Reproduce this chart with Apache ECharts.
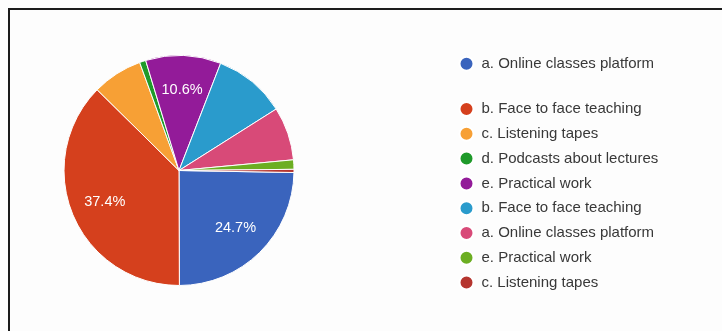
<!DOCTYPE html>
<html>
<head>
<meta charset="utf-8">
<style>
  html, body { margin: 0; padding: 0; background: #fdfdfd; }
  #chart { width: 722px; height: 331px; }
</style>
<script src="https://cdn.jsdelivr.net/npm/echarts@6/dist/echarts.min.js"></script>
</head>
<body>
<div id="chart"></div>
<script>
// Survey answers, in legend order (labels repeat as they appear in the legend)
const categories = [
  'a. Online classes platform',
  'b. Face to face teaching',
  'c. Listening tapes',
  'd. Podcasts about lectures',
  'e. Practical work',
  'b. Face to face teaching',
  'a. Online classes platform',
  'e. Practical work',
  'c. Listening tapes'
];
// Response counts per slice
const counts = [56, 85, 16, 2, 24, 23, 17, 3, 1];
const colors = ['#3a64bd', '#d5401d', '#f7a035', '#1f9a2a', '#931b99',
                '#2a9bcc', '#d84a78', '#6cae22', '#b5352f'];
// Slices large enough to carry a percentage label
const labelMin = 0.105;

const total = counts.reduce((s, v) => s + v, 0);
const ids = categories.map((c, i) => 'slice' + i);

const pieData = counts.map((v, i) => ({
  name: ids[i],
  value: v,
  itemStyle: { color: colors[i] }
}));

const labelData = counts.map((v, i) => ({
  name: ids[i],
  value: v,
  itemStyle: { color: 'rgba(0,0,0,0)', borderWidth: 0 },
  label: { show: v / total >= labelMin }
}));

const legendText = name => categories[ids.indexOf(name)];
const legendBase = {
  orient: 'vertical',
  left: 453.5,
  icon: 'circle',
  itemWidth: 14,
  itemHeight: 14,
  itemGap: 8.8,
  selectedMode: false,
  formatter: legendText,
  textStyle: {
    fontFamily: 'Liberation Sans, Arial, sans-serif',
    fontSize: 15,
    color: '#383838',
    padding: [0, 0, 0, 3]
  }
};

const chart = echarts.init(document.getElementById('chart'), null, { renderer: 'canvas' });
chart.setOption({
  backgroundColor: '#fdfdfd',
  animation: false,
  legend: [
    Object.assign({}, legendBase, { top: 50.7, data: ids.slice(0, 1) }),
    Object.assign({}, legendBase, { top: 96, data: ids.slice(1) })
  ],
  graphic: [{
    type: 'rect',
    silent: true,
    shape: { x: 9, y: 9, width: 800, height: 400 },
    style: { fill: 'none', stroke: '#1c1c1c', lineWidth: 2 }
  }],
  series: [
    {
      type: 'pie',
      center: [179, 170.5],
      radius: [0, 115],
      startAngle: -1,
      clockwise: true,
      avoidLabelOverlap: false,
      silent: true,
      label: { show: false },
      labelLine: { show: false },
      itemStyle: { borderColor: '#ffffff', borderWidth: 1 },
      data: pieData
    },
    {
      type: 'pie',
      center: [179, 170.5],
      radius: [40, 115],
      startAngle: -1,
      clockwise: true,
      silent: true,
      avoidLabelOverlap: false,
      labelLine: { show: false },
      label: {
        position: 'inside',
        formatter: p => (p.value / total * 100).toFixed(1) + '%',
        color: '#ffffff',
        fontFamily: 'Liberation Sans, Arial, sans-serif',
        fontSize: 14.5
      },
      data: labelData
    }
  ]
});
</script>
</body>
</html>
